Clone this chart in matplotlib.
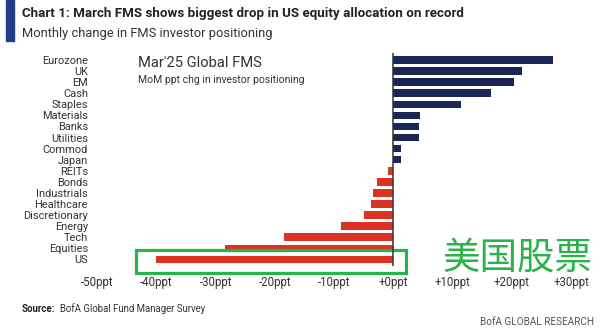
import matplotlib
matplotlib.use("Agg")
import matplotlib.pyplot as plt
from matplotlib.patches import Rectangle

# Monthly change in FMS investor positioning (ppt), Mar'25
categories = ["Eurozone", "UK", "EM", "Cash", "Staples", "Materials", "Banks",
              "Utilities", "Commod", "Japan", "REITs", "Bonds", "Industrials",
              "Healthcare", "Discretionary", "Energy", "Tech", "Equities", "US"]
changes = [27.0, 21.8, 20.3, 16.5, 11.4, 4.5, 4.4, 4.3, 1.25, 1.25, -0.9, -2.75,
           -3.4, -3.8, -4.9, -8.8, -18.4, -28.4, -40.0]
tick_values = [-50, -40, -30, -20, -10, 0, 10, 20, 30]
tick_labels = ["%+dppt" % v if v != 0 else "+0ppt" for v in tick_values]

NAVY = "#1c2557"
RED = "#dc3224"
GREEN = "#2bb34b"
TXT = "#333333"
plt.rcParams["font.family"] = ["Roboto", "DejaVu Sans"]

fig = plt.figure(figsize=(6, 3.31), dpi=100)
ax = fig.add_axes([0.1583, 0.1964, 0.825, 0.6423])

ypos = list(range(len(categories)))
colors = [NAVY if v > 0 else RED for v in changes]
ax.barh(ypos, changes, height=0.68, color=colors)
ax.axvline(0, color=TXT, lw=1.1)

ax.set_xlim(-50.35, 33.2)
ax.set_ylim(18.6, -0.6)
ax.set_yticks(ypos)
ax.set_yticklabels(categories, fontsize=7.9, color=TXT)
ax.set_xticks(tick_values)
ax.set_xticklabels(tick_labels, fontsize=8.3, color=TXT)
ax.tick_params(length=0)
ax.tick_params(axis="y", pad=5)
ax.tick_params(axis="x", pad=7)
for s in ax.spines.values():
    s.set_visible(False)

# highlight box around US
ax.add_patch(Rectangle((-43.4, 17.2), 45.5, 2.05, fill=False, ec=GREEN, lw=2.3,
                       clip_on=False))

ax.text(0.086, 0.955, "Mar'25 Global FMS", transform=ax.transAxes, fontsize=10.6,
        color=TXT, va="center")
ax.text(0.086, 0.875, "MoM ppt chg in investor positioning", transform=ax.transAxes,
        fontsize=7.5, color=TXT, va="center")

fig.text(517 / 600, 1 - 258 / 331, "美国股票", family=["Noto Sans CJK SC"],
         fontsize=27, color=GREEN, ha="center", va="center")

# header
fig.patches.append(Rectangle((6 / 600, 1 - 41 / 331), 8 / 600, 41 / 331,
                             transform=fig.transFigure, color="#253c8c"))
fig.text(22 / 600, 1 - 13.5 / 331,
         "Chart 1: March FMS shows biggest drop in US equity allocation on record",
         fontsize=9.6, fontweight="bold", color="#222222", va="center")
fig.text(22 / 600, 1 - 34 / 331, "Monthly change in FMS investor positioning",
         fontsize=9.3, color=TXT, va="center")

# footer
fig.text(22 / 600, 1 - 309 / 331, "Source:", fontsize=6.9, fontweight="bold",
         color="#222222", va="center")
fig.text(60 / 600, 1 - 309 / 331, "BofA Global Fund Manager Survey", fontsize=6.9,
         color=TXT, va="center")
fig.text(594 / 600, 1 - 322 / 331, "BofA GLOBAL RESEARCH", fontsize=7.2,
         color="#555555", ha="right", va="center")

fig.savefig("out.png", dpi=100)
